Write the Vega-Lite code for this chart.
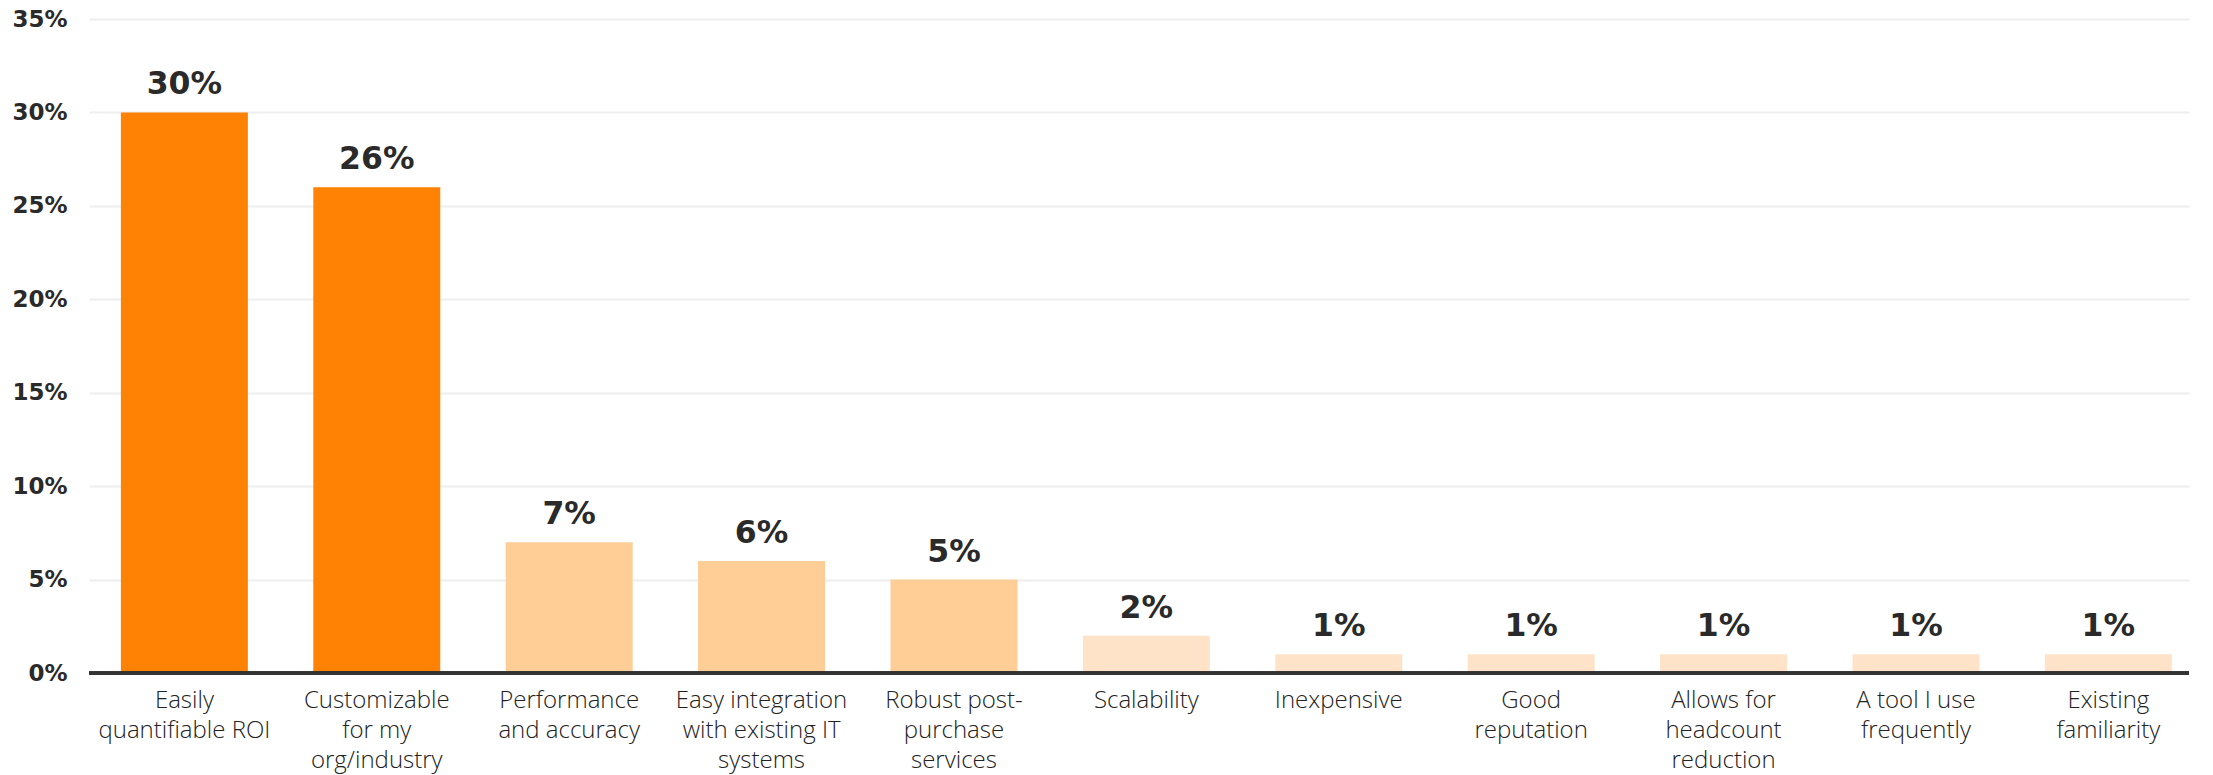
{
  "$schema": "https://vega.github.io/schema/vega-lite/v6.json",
  "width": 2100,
  "height": 654,
  "autosize": {"type": "none"},
  "padding": {"left": 89, "top": 19, "right": 24, "bottom": 102},
  "background": "white",
  "config": {"view": {"stroke": null}},
  "data": {
    "values": [
      {"reason": "Easily\nquantifiable ROI", "pct": 30},
      {"reason": "Customizable\nfor my\norg/industry", "pct": 26},
      {"reason": "Performance\nand accuracy", "pct": 7},
      {"reason": "Easy integration\nwith existing IT\nsystems", "pct": 6},
      {"reason": "Robust post-\npurchase\nservices", "pct": 5},
      {"reason": "Scalability", "pct": 2},
      {"reason": "Inexpensive", "pct": 1},
      {"reason": "Good\nreputation", "pct": 1},
      {"reason": "Allows for\nheadcount\nreduction", "pct": 1},
      {"reason": "A tool I use\nfrequently", "pct": 1},
      {"reason": "Existing\nfamiliarity", "pct": 1}
    ]
  },
  "transform": [{"calculate": "datum.pct + '%'", "as": "label"}],
  "encoding": {
    "x": {
      "field": "reason",
      "type": "nominal",
      "sort": null,
      "scale": {"paddingInner": 0.34, "paddingOuter": 0.1275, "align": 0.65},
      "axis": {
        "title": null,
        "labelAngle": 0,
        "labelExpr": "split(datum.label, '\\n')",
        "labelFont": "Open Sans",
        "labelFontWeight": 300,
        "labelFontSize": 24,
        "labelColor": "#222222",
        "labelLineHeight": 30,
        "labelPadding": 15,
        "labelLimit": 300,
        "ticks": false,
        "domain": false,
        "grid": false
      }
    },
    "y": {
      "field": "pct",
      "type": "quantitative",
      "scale": {"domain": [0, 35], "nice": false},
      "axis": {
        "title": null,
        "values": [0, 5, 10, 15, 20, 25, 30, 35],
        "labelExpr": "datum.value + '%'",
        "labelFont": "DejaVu Sans",
        "labelFontWeight": "bold",
        "labelFontSize": 23,
        "labelColor": "#2a2a2a",
        "labelPadding": 22,
        "ticks": false,
        "domain": false,
        "grid": true,
        "gridColor": "#eeeeee",
        "gridWidth": 2
      }
    }
  },
  "layer": [
    {
      "mark": {"type": "bar"},
      "encoding": {
        "color": {
          "condition": [
            {"test": "datum.pct >= 20", "value": "#ff8205"},
            {"test": "datum.pct >= 5", "value": "#ffcd96"}
          ],
          "value": "#ffe3c8"
        }
      }
    },
    {
      "mark": {"type": "rule", "color": "#333333", "strokeWidth": 2.5},
      "encoding": {"y": {"datum": 0}, "x": null}
    },
    {
      "mark": {
        "type": "text",
        "baseline": "alphabetic",
        "dy": -18,
        "font": "DejaVu Sans",
        "fontWeight": "bold",
        "fontSize": 31.5,
        "color": "#2a2a2a"
      },
      "encoding": {
        "text": {"field": "label", "type": "nominal"}
      }
    }
  ]
}
